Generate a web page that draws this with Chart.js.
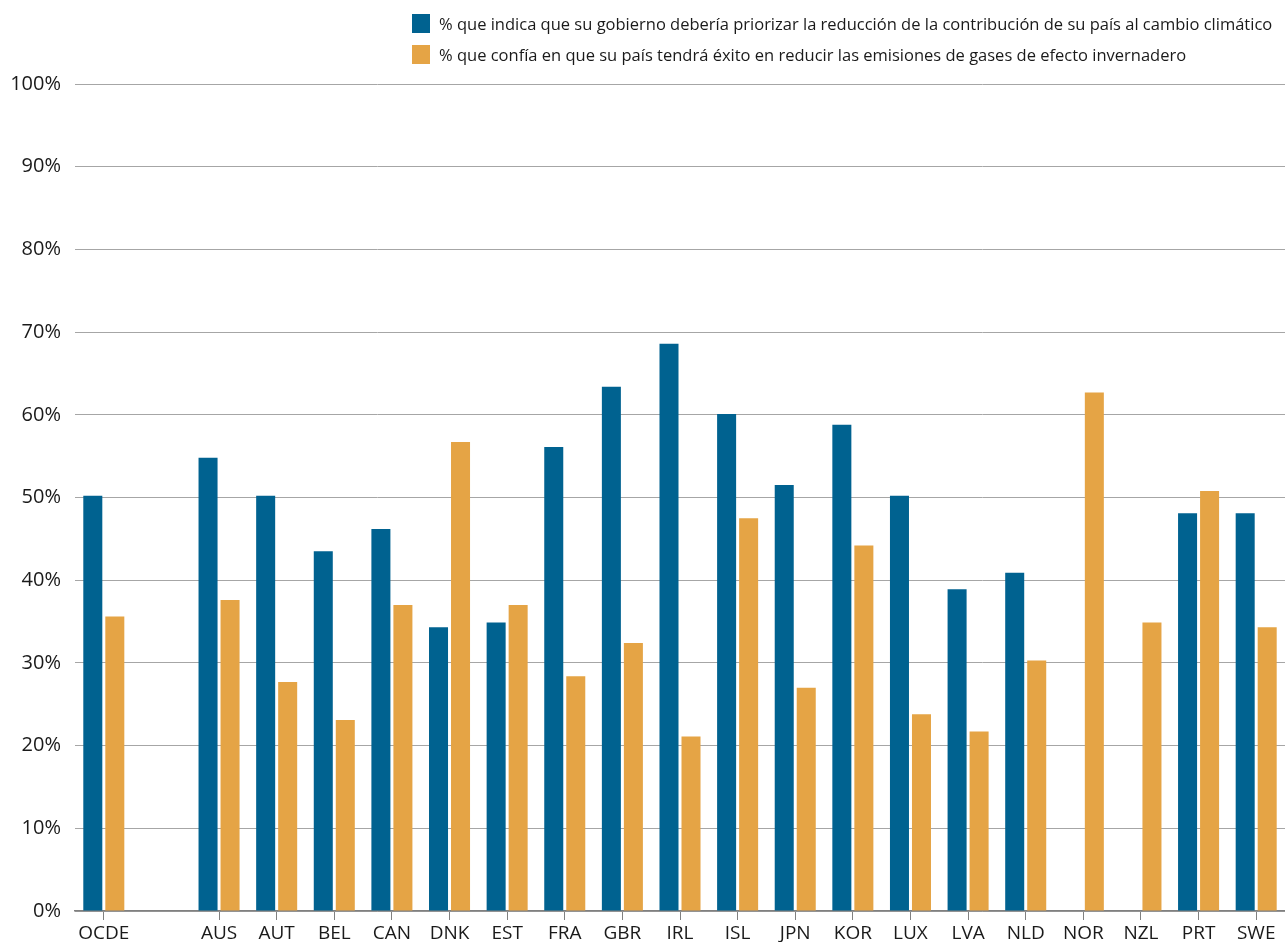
<!DOCTYPE html>
<html>
<head>
<meta charset="utf-8">
<script src="https://cdn.jsdelivr.net/npm/chart.js@4.4.0/dist/chart.umd.min.js"></script>
<style>
  body { margin: 0; background: #fff; }
  #wrap { position: relative; width: 1285px; height: 942px; }
  #legend { position: absolute; left: 412px; top: 8px; font-family: 'Open Sans', sans-serif; font-size: 16.5px; color: #1a1a1a; }
  #legend div { height: 31px; display: flex; align-items: center; white-space: nowrap; }
  #legend span.box { display: inline-block; width: 18px; height: 19px; margin-right: 9px; }
</style>
</head>
<body>
<div id="wrap">
  <canvas id="myChart" width="1285" height="942"></canvas>
  <div id="legend"></div>
</div>
<script>
// categories (the empty one is the gap after OCDE)
var countries = ["OCDE", "", "AUS", "AUT", "BEL", "CAN", "DNK", "EST", "FRA", "GBR", "IRL", "ISL", "JPN", "KOR", "LUX", "LVA", "NLD", "NOR", "NZL", "PRT", "SWE"];

var priorizar = [50.2, null, 54.8, 50.2, 43.5, 46.2, 34.3, 34.9, 56.1, 63.4, 68.6, 60.1, 51.5, 58.8, 50.2, 38.9, 40.9, null, null, 48.1, 48.1];
var confia    = [35.6, null, 37.6, 27.7, 23.1, 37.0, 56.7, 37.0, 28.4, 32.4, 21.1, 47.5, 27.0, 44.2, 23.8, 21.7, 30.3, 62.7, 34.9, 50.8, 34.3];

var seriesNames = [
  "% que indica que su gobierno debería priorizar la reducción de la contribución de su país al cambio climático",
  "% que confía en que su país tendrá éxito en reducir las emisiones de gases de efecto invernadero"
];
var yTicks = [0, 10, 20, 30, 40, 50, 60, 70, 80, 90, 100];

var barColors = ["#006290", "#e5a445"];

// legend as html
var leg = document.getElementById("legend");
for (var i = 0; i < seriesNames.length; i++) {
  var row = document.createElement("div");
  row.innerHTML = '<span class="box" style="background:' + barColors[i] + '"></span>' + seriesNames[i];
  leg.appendChild(row);
}

new Chart("myChart", {
  type: "bar",
  data: {
    labels: countries,
    datasets: [
      { label: seriesNames[0], data: priorizar, backgroundColor: barColors[0] },
      { label: seriesNames[1], data: confia, backgroundColor: barColors[1] }
    ]
  },
  options: {
    responsive: false,
    animation: false,
    categoryPercentage: 0.764,
    barPercentage: 0.864,
    layout: { padding: { top: 84, right: 0, left: 0, bottom: 0 } },
    plugins: {
      legend: { display: false },
      tooltip: { enabled: false }
    },
    scales: {
      x: {
        grid: {
          offset: false,
          drawOnChartArea: false,
          drawTicks: true,
          tickLength: 9,
          tickColor: function(ctx) { return ctx.index === 1 ? "rgba(0,0,0,0)" : "#808080"; }
        },
        border: { color: "#808080", width: 1.5 },
        ticks: {
          color: "#1a1a1a",
          padding: 2,
          maxRotation: 0,
          autoSkip: false,
          font: { family: "'Open Sans', sans-serif", size: 19 }
        },
        afterFit: function(scale) { scale.height = 31; }
      },
      y: {
        min: 0,
        max: 100,
        afterBuildTicks: function(scale) {
          scale.ticks = yTicks.map(function(v) { return { value: v }; });
        },
        grid: { color: "#a6a6a6", lineWidth: 1, drawTicks: false },
        border: { display: false },
        ticks: {
          color: "#1a1a1a",
          padding: 14,
          font: { family: "'Open Sans', sans-serif", size: 20 },
          callback: function(v) { return v + "%"; }
        },
        afterFit: function(scale) { scale.width = 75; }
      }
    }
  }
});
</script>
</body>
</html>
